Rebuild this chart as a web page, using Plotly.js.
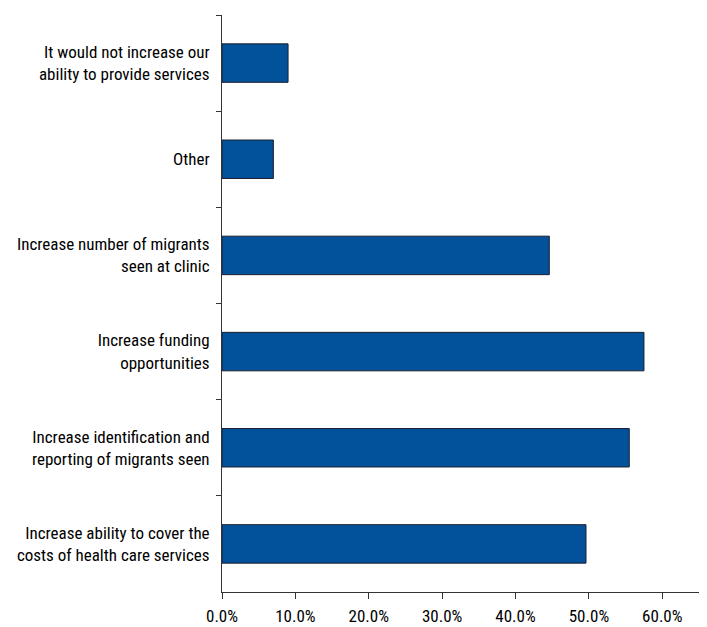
<!DOCTYPE html>
<html>
<head>
<meta charset="utf-8">
<script src="https://cdn.plot.ly/plotly-3.0.1.min.js"></script>
<style>html,body{margin:0;padding:0;background:#fff;}#chart{width:707px;height:627px;}</style>
</head>
<body>
<div id="chart"></div>
<script>
const categories = [
  "It would not increase our<br>ability to provide services",
  "Other",
  "Increase number of migrants<br>seen at clinic",
  "Increase funding<br>opportunities",
  "Increase identification and<br>reporting of migrants seen",
  "Increase ability to cover the<br>costs of health care services"
];
const values = [9.0, 7.0, 44.6, 57.5, 55.5, 49.6];
const tickVals = [0, 10, 20, 30, 40, 50, 60];
const tickText = ["0.0%", "10.0%", "20.0%", "30.0%", "40.0%", "50.0%", "60.0%"];

const font = "'Roboto Condensed', 'Arial Narrow', sans-serif";

Plotly.newPlot("chart", [{
  type: "bar",
  orientation: "h",
  x: values,
  y: categories,
  marker: { color: "#02519B", line: { color: "#1c1f2e", width: 1 } },
  hoverinfo: "none"
}], {
  width: 707, height: 627,
  margin: { l: 222, r: 8, t: 15, b: 35 },
  paper_bgcolor: "#fff", plot_bgcolor: "#fff",
  bargap: 0.6,
  showlegend: false,
  font: { family: font, size: 17, color: "#000", weight: 400 },
  xaxis: {
    range: [0, 65],
    tickvals: tickVals, ticktext: tickText,
    showgrid: false, zeroline: false,
    showline: true, linecolor: "#333", linewidth: 1,
    ticks: "outside", ticklen: 6, tickcolor: "#333",
    ticklabelstandoff: 3,
    tickfont: { family: font, size: 17, color: "#000", weight: 400 }
  },
  yaxis: {
    autorange: "reversed",
    type: "category",
    showgrid: false, zeroline: false,
    showline: true, linecolor: "#333", linewidth: 1,
    ticks: "outside", ticklen: 5, tickcolor: "#333",
    tickson: "boundaries",
    ticklabelstandoff: 8,
    tickfont: { family: font, size: 17, color: "#000", weight: 400 }
  }
}, { staticPlot: true });
</script>
</body>
</html>
